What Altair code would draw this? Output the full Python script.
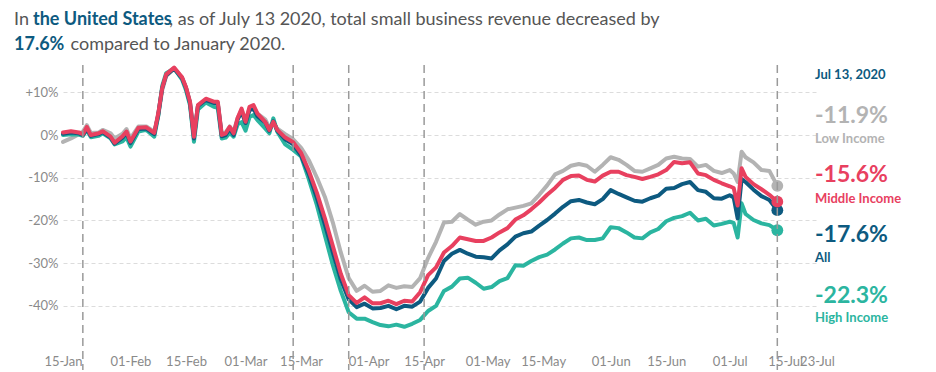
import altair as alt
import pandas as pd

# ---------------- data ----------------
day_offset = [0, 2, 4, 5, 6, 7, 9, 10, 12, 13, 15, 16, 17, 19, 21, 23, 24, 25, 26, 28,
              30, 31, 32, 33, 34, 36, 38, 39, 40, 41, 42, 43, 44, 45, 46, 47, 48, 49, 51, 52,
              53, 54, 56, 58,
              60, 62, 64, 66, 68, 70, 72, 74, 76, 78, 80, 82, 84, 86, 88, 90, 92, 94, 96, 98,
              100, 102, 104, 106, 108, 110, 112, 114, 116, 118, 120, 122, 124, 126, 128, 130,
              132, 134, 136, 138, 140, 142, 144, 146, 148, 150, 152, 154, 156, 158, 160, 162,
              164, 166, 168,
              169, 170, 171, 172, 174, 176, 178, 180]

middle_income = [0.6, 0.9, 0.6, 0.2, 1.9, 0.0, 0.4, 0.9, -0.4, -1.8, -0.3, 0.8, -1.5, 1.7, 1.8, 0.5, 5.1, 11.0, 14.2, 15.8,
                 13.5, 11.2, 7.8, -0.4, 7.0, 8.5, 7.8, 7.8, 0.0, 0.4, 1.9, 0.4, 4.0, 6.2, 3.1, 6.6, 7.0, 5.0, 3.0, 1.2,
                 3.1, 1.2, -0.6, -1.7,
                 -4.2, -8.5, -13.6, -19.5, -26.0, -32.5, -37.5, -39.3, -38.0, -39.4, -39.4, -38.8, -39.6, -38.8, -39.0, -36.8, -32.8, -31.0, -27.5, -26.0,
                 -24.0, -24.4, -24.8, -24.8, -24.0, -22.8, -21.8, -19.8, -18.8, -17.4, -15.8, -14.0, -12.4, -10.5, -9.6, -9.5,
                 -10.5, -10.9, -9.5, -8.6, -8.6, -9.4, -9.8, -10.3, -9.8, -9.2, -8.2, -6.3, -6.6, -6.4, -9.0, -9.4,
                 -10.5, -11.3, -12.0,
                 -12.4, -16.5, -7.8, -9.8, -11.5, -12.7, -14.0, -15.6]

all_businesses = [0.3, 0.6, 0.4, 0.0, 1.5, -0.2, 0.2, 0.7, -0.6, -2.0, -0.6, 0.5, -1.9, 1.4, 1.5, 0.2, 4.8, 11.0, 14.0, 15.6,
                  13.3, 11.0, 7.5, -0.8, 6.8, 8.2, 7.5, 7.4, -0.3, 0.0, 1.5, 0.0, 3.6, 5.5, 2.8, 5.8, 6.2, 4.4, 2.9, 1.0,
                  3.2, 1.0, -1.0, -2.2,
                  -4.8, -9.3, -14.8, -21.0, -27.5, -33.8, -38.5, -40.3, -39.5, -40.6, -40.5, -40.0, -40.8, -40.0, -40.2, -39.0, -35.8, -33.6, -29.5, -27.8,
                  -26.9, -27.8, -28.5, -28.6, -28.9, -27.0, -25.6, -23.8, -23.0, -22.6, -21.2, -19.9, -18.4, -16.8, -15.5, -15.2,
                  -15.8, -16.2, -15.0, -12.9, -13.8, -14.6, -15.4, -15.6, -14.8, -14.2, -12.6, -12.4, -11.5, -11.0, -12.9, -13.3,
                  -14.8, -14.9, -14.1,
                  -14.6, -19.5, -10.3, -11.0, -12.8, -14.3, -15.2, -17.6]

high_income = [0.0, 0.2, 0.1, -0.2, 1.2, -0.5, -0.2, 0.4, -0.8, -2.2, -1.5, -0.5, -2.7, 0.8, 1.2, -0.4, 4.5, 11.5, 14.5, 15.6,
               13.0, 10.5, 7.0, -1.6, 6.0, 7.6, 6.6, 6.4, -0.8, -0.6, 0.5, -0.4, 2.5, 3.0, 1.0, 4.2, 4.7, 3.5, 1.5, 0.4,
               3.9, 0.8, -2.2, -3.5,
               -5.0, -10.5, -16.5, -23.5, -30.5, -36.5, -41.5, -43.0, -43.0, -43.8, -44.5, -44.8, -44.4, -44.9, -44.2, -43.3, -41.2, -40.0, -36.5, -35.5,
               -33.6, -33.4, -34.6, -36.0, -35.6, -34.2, -33.5, -30.5, -30.6, -29.5, -28.6, -28.0, -26.8, -25.4, -24.2, -24.0,
               -24.6, -24.6, -24.2, -21.6, -21.8, -22.8, -24.0, -24.2, -22.8, -22.0, -20.2, -19.4, -19.0, -18.2, -20.0, -19.6,
               -21.2, -20.8, -20.3,
               -20.6, -24.0, -16.0, -18.5, -19.9, -20.7, -21.1, -22.3]

low_income = [-1.6, -0.8, 0.2, 0.8, 2.3, 0.5, 0.6, 1.2, 0.4, -0.8, 0.3, 1.4, -0.8, 2.0, 2.0, 0.8, 4.5, 10.5, 13.8, 15.5,
              13.5, 11.0, 7.8, 0.2, 6.8, 8.2, 7.6, 7.6, 0.3, 0.6, 2.0, 0.8, 4.0, 5.8, 3.5, 6.2, 6.6, 5.0, 3.6, 1.8,
              2.8, 1.5, 0.2, -1.0,
              -3.0, -6.0, -10.0, -14.5, -20.5, -27.5, -33.5, -36.5, -35.3, -36.7, -36.5, -35.2, -35.8, -35.4, -35.6, -33.5, -28.8, -25.0, -20.5, -20.3,
              -18.5, -19.8, -21.0, -20.3, -20.0, -18.6, -17.4, -17.0, -16.6, -16.0, -14.0, -11.8, -9.2, -8.4, -7.2, -6.8,
              -7.2, -8.6, -7.0, -5.2, -5.8, -7.0, -8.4, -8.6, -7.8, -7.0, -5.5, -5.1, -5.5, -5.6, -7.4, -7.0,
              -8.4, -8.9, -8.2,
              -9.0, -11.0, -3.9, -5.2, -6.4, -8.2, -8.4, -11.9]

series_names = ["Low Income", "High Income", "All", "Middle Income"]      # drawing order
series_colors = ["#b3b3b3", "#2bb5a0", "#0d5a80", "#e8405f"]
label_order = ["Low Income", "Middle Income", "All", "High Income"]      # right-hand labels, top to bottom

event_dates = ["2020-01-20", "2020-03-13", "2020-03-27", "2020-04-15", "2020-07-13"]
tick_dates = [(1, 15), (2, 1), (2, 15), (3, 1), (3, 15), (4, 1), (4, 15), (5, 1),
              (5, 15), (6, 1), (6, 15), (7, 1), (7, 15), (7, 23)]
y_ticks = [10, 0, -10, -20, -30, -40]

# ---------------- tables ----------------
start = pd.Timestamp("2020-01-15")
dates = [(start + pd.Timedelta(days=d)).strftime("%Y-%m-%d") for d in day_offset]
values_by_series = {"Low Income": low_income, "Middle Income": middle_income,
                    "All": all_businesses, "High Income": high_income}
rows = []
for name in series_names:
    for dt, v in zip(dates, values_by_series[name]):
        rows.append({"date": dt, "value": v, "series": name})
df = pd.DataFrame(rows)
end_df = pd.DataFrame([{"date": dates[-1], "value": values_by_series[n][-1], "series": n} for n in series_names])
rule_df = pd.DataFrame({"date": event_dates})
color_of = dict(zip(series_names, series_colors))

FONT = "Lato"
TEXT_GREY = "#555555"
BLUE = "#0d5a80"

x_scale = alt.Scale(type="utc", domain=[alt.DateTime(year=2020, month=1, date=15, utc=True),
                                        alt.DateTime(year=2020, month=7, date=23, utc=True)])
x_axis = alt.Axis(values=[alt.DateTime(year=2020, month=m, date=d, utc=True) for m, d in tick_dates],
                  labelExpr="utcFormat(datum.value, '%d-%b')", grid=False, domain=False, ticks=False,
                  tickSize=0, labelPadding=15, labelFont=FONT, labelFontSize=13, labelColor="#8a8a8a",
                  title=None, labelOverlap=False, labelFlush=False, labelBound=False)
x_enc = alt.X("date:T", scale=x_scale, axis=x_axis)
y_enc = alt.Y("value:Q", scale=alt.Scale(domain=[-48, 17.1], nice=False, zero=False),
              axis=alt.Axis(values=y_ticks, labelExpr="(datum.value > 0 ? '+' : '') + datum.value + '%'",
                            grid=True, gridDash=[4, 3], gridColor="#dcdcdc", gridWidth=1,
                            domain=False, ticks=False, tickSize=0, labelPadding=5, labelFont=FONT,
                            labelFontSize=13, labelColor="#8a8a8a", title=None))

layers = []
base = alt.Chart(df)
for name in series_names:
    layers.append(base.transform_filter(alt.datum.series == name)
                  .mark_line(color=color_of[name], strokeWidth=4, strokeCap="round", strokeJoin="round")
                  .encode(x=x_enc, y=y_enc))

layers.append(alt.Chart(end_df).mark_circle(size=140, opacity=1).encode(
    x=x_enc, y=y_enc,
    color=alt.Color("series:N", scale=alt.Scale(domain=series_names, range=series_colors), legend=None)))

layers.append(alt.Chart(rule_df).mark_rule(color="#9a9a9a", strokeWidth=1.5, strokeDash=[8, 5]).encode(
    x=x_enc, y=alt.value(3), y2=alt.value(310)))


def text(txt, x, y, size, color, weight="normal", baseline="middle"):
    return alt.Chart(alt.Data(values=[{"t": txt}])).mark_text(
        align="left", baseline=baseline, font=FONT, fontSize=size, fontWeight=weight, color=color
    ).encode(text="t:N", x=alt.value(x), y=alt.value(y))


# headline (mixed styles), alphabetic baselines
TS = 18
layers.append(text("In", -49, -37, TS, TEXT_GREY, baseline="alphabetic"))
layers.append(text("the United States", -30, -37, TS, BLUE, "bold", baseline="alphabetic"))
layers.append(text(", as of July 13 2020, total small business revenue decreased by", 106, -37, TS, TEXT_GREY,
                   baseline="alphabetic"))
layers.append(text("17.6%", -49, -12, TS, BLUE, "bold", baseline="alphabetic"))
layers.append(text("compared to January 2020.", 7.5, -12, TS, TEXT_GREY, baseline="alphabetic"))

# right-hand labels
LX = 752
layers.append(text("Jul 13, 2020", LX, 13, 13, BLUE, "bold"))
label_y = {"Low Income": (54, 77), "Middle Income": (113, 137), "All": (173, 196), "High Income": (234, 256)}
for name in label_order:
    vy, ny = label_y[name]
    c = color_of[name]
    layers.append(text(f"{values_by_series[name][-1]:.1f}%", LX, vy, 23, c, "bold"))
    layers.append(text(name, LX, ny, 13, c, "bold"))

chart = alt.layer(*layers).properties(
    width=754, height=278,
    autosize=alt.AutoSizeParams(type="none"),
    padding={"left": 55, "top": 54, "right": 105, "bottom": 30},
).configure_view(stroke=None)

chart.save("out.html", embed_options={"renderer": "svg", "actions": False})
